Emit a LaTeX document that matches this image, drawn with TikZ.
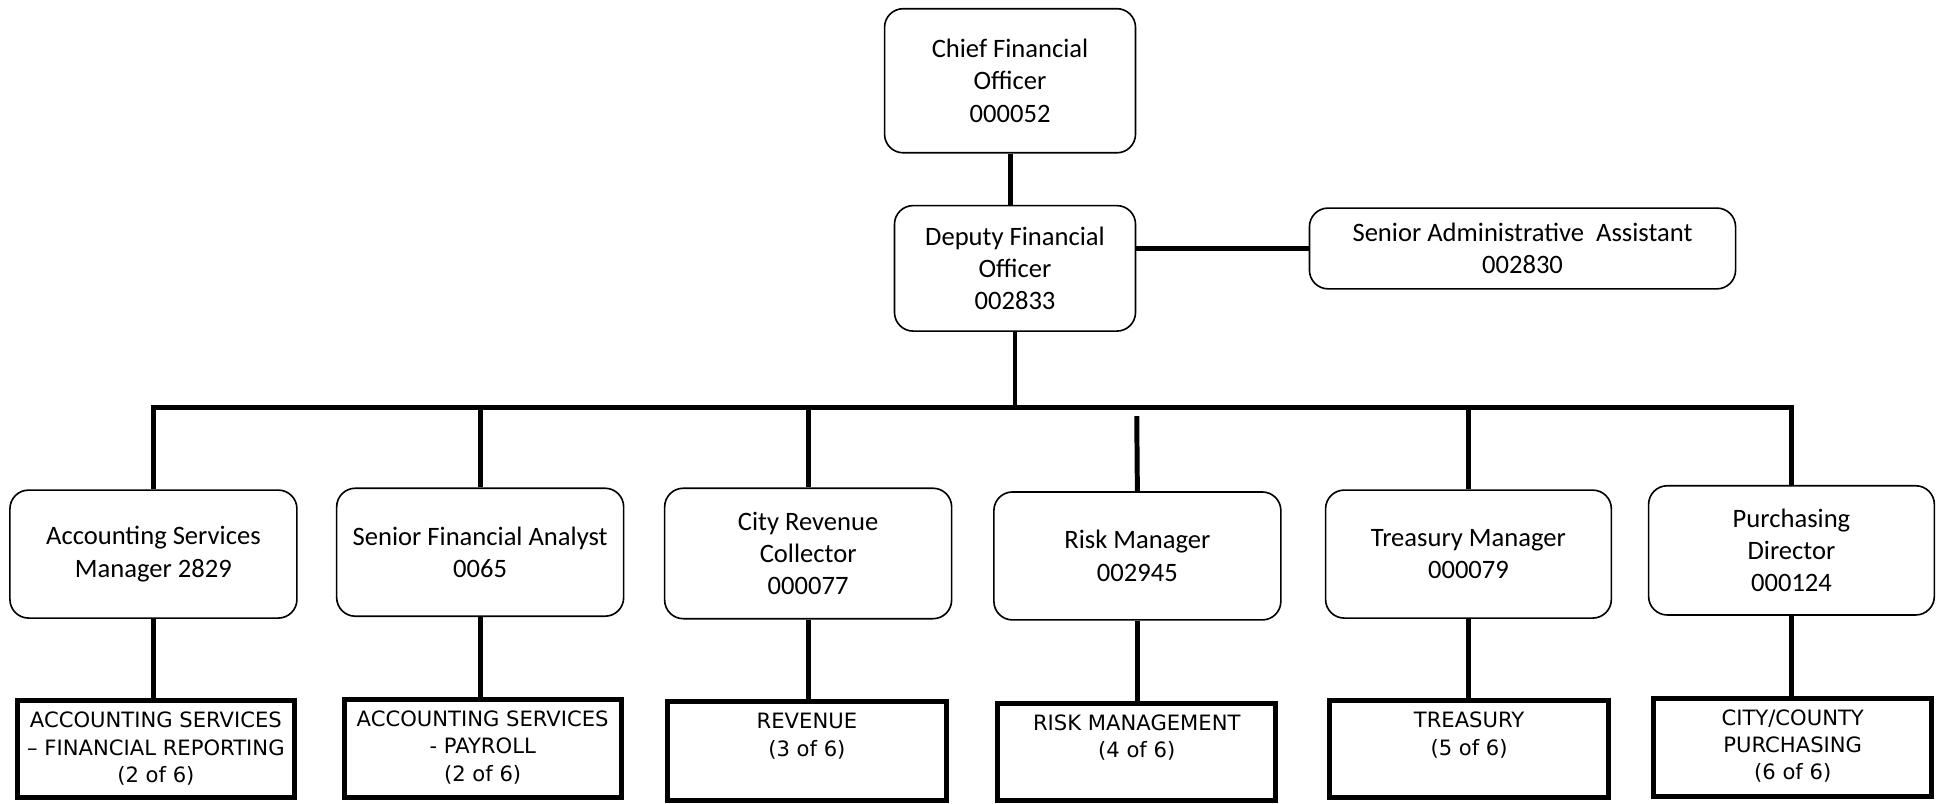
\documentclass[tikz,border=0pt]{standalone}
\usepackage{fontspec}
\setmainfont{Carlito}
\newfontfamily\deptfont{DejaVu Sans}
\usetikzlibrary{positioning}

\tikzset{
  post/.style={draw, rounded corners=15pt, line width=1.3pt, align=center,
    inner sep=0pt, font=\fontsize{21.4}{26}\selectfont},
  dept/.style={draw, line width=4pt, inner sep=0pt},
  depttext/.style={align=center, inner sep=0pt,
    font=\deptfont\fontsize{17}{22}\selectfont},
  link/.style={line width=4pt}
}

\begin{document}
\begin{tikzpicture}[x=1pt, y=-1pt]
  \useasboundingbox (0,0) rectangle (1568,647);

  % top of the chart
  \node[post, minimum width=202pt, minimum height=116pt] (cfo) at (813,65) {Chief Financial\\Officer\\000052};
  \node[post, minimum width=194pt, minimum height=101pt] (dfo) at (817,216) {Deputy Financial\\Officer\\002833};
  \node[post, minimum width=343pt, minimum height=65pt] (saa) at (1225.5,200) {Senior Administrative~ Assistant\\002830};

  % managers
  \node[post, minimum width=231pt, minimum height=103pt] (asm) at (123.5,446) {Accounting Services\\Manager 2829};
  \node[post, minimum width=231pt, minimum height=103pt] (sfa) at (386.5,444.5) {Senior Financial Analyst\\0065};
  \node[post, minimum width=231pt, minimum height=105pt] (crc) at (650.5,445.5) {City Revenue\\Collector\\000077};
  \node[post, minimum width=231pt, minimum height=103pt] (rm) at (915.5,447.5) {Risk Manager\\002945};
  \node[post, minimum width=230pt, minimum height=103pt] (tm) at (1182,446) {Treasury Manager\\000079};
  \node[post, minimum width=230pt, minimum height=104pt] (pd) at (1442,443) {Purchasing\\Director\\000124};

  % departments
  \node[dept, minimum width=223pt, minimum height=78pt] (afr) at (125.5,603) {};
  \node[dept, minimum width=223pt, minimum height=79pt] (pay) at (388.5,602.5) {};
  \node[dept, minimum width=225pt, minimum height=79pt] (rev) at (649.5,604.5) {};
  \node[dept, minimum width=224pt, minimum height=78pt] (rsk) at (915,605) {};
  \node[dept, minimum width=225pt, minimum height=78pt] (trs) at (1182.5,603) {};
  \node[dept, minimum width=224pt, minimum height=79pt] (ccp) at (1443,601.5) {};

  \node[depttext, below=11pt of afr.north] (afrtext) {ACCOUNTING SERVICES\\– FINANCIAL REPORTING\\(2 of 6)};
  \node[depttext, below=11pt of pay.north] (paytext) {ACCOUNTING SERVICES\\- PAYROLL\\(2 of 6)};
  \node[depttext, below=11pt of rev.north] (revtext) {REVENUE\\(3 of 6)};
  \node[depttext, below=11pt of rsk.north] (rsktext) {RISK MANAGEMENT\\(4 of 6)};
  \node[depttext, below=11pt of trs.north] (trstext) {TREASURY\\(5 of 6)};
  \node[depttext, below=11pt of ccp.north] (ccptext) {CITY/COUNTY\\PURCHASING\\(6 of 6)};

  % connectors
  \coordinate (bus) at (815,328);
  \coordinate (rmtop) at (915,335);
  \draw[link] (cfo.south) -- (cfo.south |- dfo.north);
  \draw[link] (dfo.east |- saa.west) -- (saa.west);
  \draw[link] (dfo.south) -- (dfo.south |- bus);
  \draw[link] (asm.north) |- (bus) -| (pd.north);
  \draw[link] (sfa.north) -- (sfa.north |- bus);
  \draw[link] (crc.north) -- (crc.north |- bus);
  \draw[link] (rmtop) -- (rm.north);
  \draw[link] (tm.north) -- (tm.north |- bus);

  \draw[link] (asm.south) -- (asm.south |- afr.north);
  \draw[link] (sfa.south) -- (sfa.south |- pay.north);
  \draw[link] (crc.south) -- (crc.south |- rev.north);
  \draw[link] (rm.south) -- (rm.south |- rsk.north);
  \draw[link] (tm.south) -- (tm.south |- trs.north);
  \draw[link] (pd.south) -- (pd.south |- ccp.north);
\end{tikzpicture}
\end{document}
